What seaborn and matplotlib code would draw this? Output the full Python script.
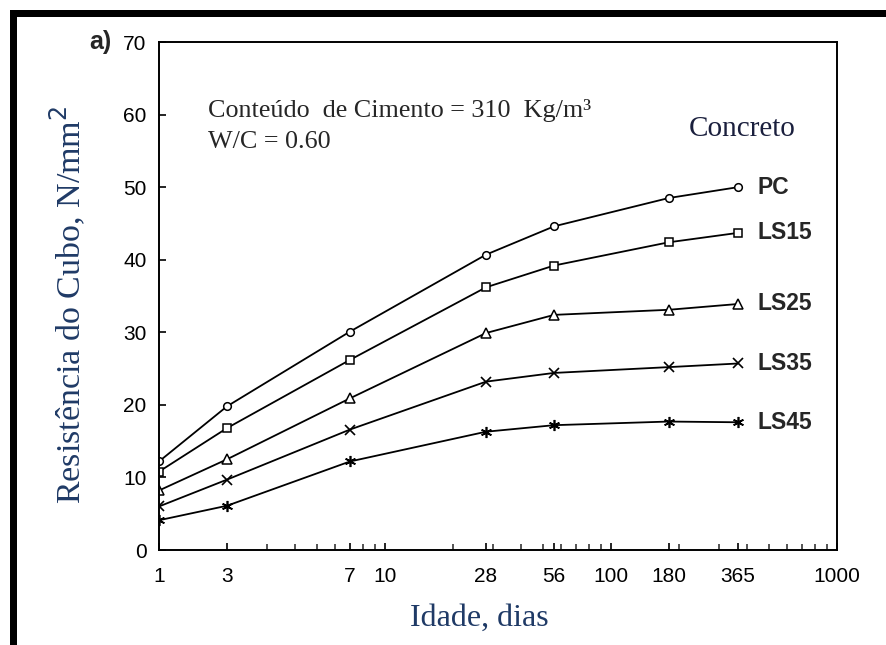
import numpy as np
import pandas as pd
import matplotlib
matplotlib.use("Agg")
import matplotlib.pyplot as plt
import seaborn as sns
from matplotlib.ticker import FixedLocator, NullFormatter
from matplotlib.patches import Rectangle

# ---- data ----
idade = [1, 3, 7, 28, 56, 180, 365]
pc   = [12.2, 19.8, 30.1, 40.7, 44.6, 48.5, 50.0]
ls15 = [10.8, 16.8, 26.2, 36.2, 39.2, 42.4, 43.7]
ls25 = [8.2, 12.5, 20.9, 29.9, 32.4, 33.1, 33.9]
ls35 = [6.0, 9.7, 16.6, 23.2, 24.4, 25.2, 25.7]
ls45 = [4.1, 6.1, 12.2, 16.3, 17.2, 17.7, 17.6]
series_names = ["PC", "LS15", "LS25", "LS35", "LS45"]
series_values = [pc, ls15, ls25, ls35, ls45]
x_ticks = [1, 3, 7, 10, 28, 56, 100, 180, 365, 1000]
x_tick_labels = ["1", "3", "7", "10", "28", "56", "100", "180", "365", "1000"]
y_ticks = [0, 10, 20, 30, 40, 50, 60, 70]

df = pd.DataFrame({
    "Idade": np.tile(idade, len(series_names)),
    "Resistencia": np.concatenate(series_values),
    "Concreto": np.repeat(series_names, len(idade)),
})

sns.set_style("white")
plt.rcParams["font.family"] = ["Liberation Sans", "DejaVu Sans"]

fig = plt.figure(figsize=(8.87, 6.45), dpi=100)
ax = fig.add_axes([159 / 887, 1 - 550 / 645, (837 - 159) / 887, (550 - 42) / 645])

marker_styles = {
    "PC":   dict(marker="o", markersize=5.5, markerfacecolor="white", markeredgewidth=1.1),
    "LS15": dict(marker="s", markersize=5.5, markerfacecolor="white", markeredgewidth=1.1),
    "LS25": dict(marker="^", markersize=6.5, markerfacecolor="white", markeredgewidth=1.1),
    "LS35": dict(marker="x", markersize=7, markeredgewidth=1.2),
    "LS45": dict(marker=(6, 2, 0), markersize=8, markeredgewidth=1.2),
}

for name in series_names:
    sub = df[df["Concreto"] == name]
    sns.lineplot(data=sub, x="Idade", y="Resistencia", ax=ax, color="black",
                 linewidth=1.3, markeredgecolor="black", legend=False,
                 **marker_styles[name])
    last = sub.iloc[-1]
    ax.annotate(name, (last["Idade"], last["Resistencia"]), xytext=(14, 0),
                textcoords="offset points", va="center", ha="left",
                fontsize=16.5, fontweight="bold", family="Liberation Sans")

# the reference age axis: logarithmic, with the 3-day column drawn where 2 would sit
knot_val = np.log10([1, 3, 7, 1000])
knot_pos = np.array([0.0, np.log10(2), np.log10(7), 3.0])

def fwd(x):
    x = np.clip(np.asarray(x, dtype=float), 1e-6, None)
    return np.interp(np.log10(x), knot_val, knot_pos)

def inv(y):
    return 10 ** np.interp(np.asarray(y, dtype=float), knot_pos, knot_val)

ax.set_xscale("function", functions=(fwd, inv))
ax.set_xlim(1, 1000)
ax.set_ylim(0, 70)

minor_vis = np.log10([k * 10 ** d for d in range(3) for k in range(2, 10)])
ax.xaxis.set_major_locator(FixedLocator(x_ticks))
ax.set_xticklabels(x_tick_labels)
ax.xaxis.set_minor_locator(FixedLocator(inv(minor_vis)))
ax.xaxis.set_minor_formatter(NullFormatter())
ax.set_yticks(y_ticks)

ax.tick_params(axis="both", which="both", bottom=True, left=True, top=False, right=False)
ax.tick_params(axis="both", which="major", direction="in", length=5, width=1.2,
               labelsize=15, colors="black")
ax.tick_params(axis="x", which="major", pad=12)
ax.tick_params(axis="y", which="major", pad=9)
ax.tick_params(axis="x", which="minor", direction="in", length=4, width=1.1)

for s in ax.spines.values():
    s.set_visible(True)
    s.set_color("black")
    s.set_linewidth(1.4)

navy = "#1f3a66"
ax.set_xlabel("Idade, dias", fontsize=23, color=navy, family="Liberation Serif")
ax.set_ylabel("Resistência do Cubo, N/mm$^2$", fontsize=24.5, color=navy,
              family="Liberation Serif")
ax.xaxis.set_label_coords((479 - 159) / 678, (550 - 604) / 508)
ax.yaxis.set_label_coords(-0.104, 0.482)

ax.text(0.072, 0.866, "Conteúdo  de Cimento = 310  Kg/m³", transform=ax.transAxes,
        fontsize=18.8, family="Liberation Serif", va="center", ha="left")
ax.text(0.072, 0.803, "W/C = 0.60", transform=ax.transAxes,
        fontsize=18.8, family="Liberation Serif", va="center", ha="left")
ax.text(0.781, 0.828, "Concreto", transform=ax.transAxes, fontsize=21,
        family="Liberation Serif", color="#1a1f3d", va="center", ha="left")

fig.text(100 / 887, 1 - 42 / 645, "a)", fontsize=18, fontweight="bold",
         family="Liberation Sans", va="center", ha="center")

# thick black frame of the reference image (left and top edges)
fig.add_artist(Rectangle((10 / 887, 0), 7 / 887, 635 / 645,
                         transform=fig.transFigure, color="black", lw=0))
fig.add_artist(Rectangle((10 / 887, 628 / 645), 877 / 887, 7 / 645,
                         transform=fig.transFigure, color="black", lw=0))

fig.savefig("out.png", dpi=100, facecolor="white")
